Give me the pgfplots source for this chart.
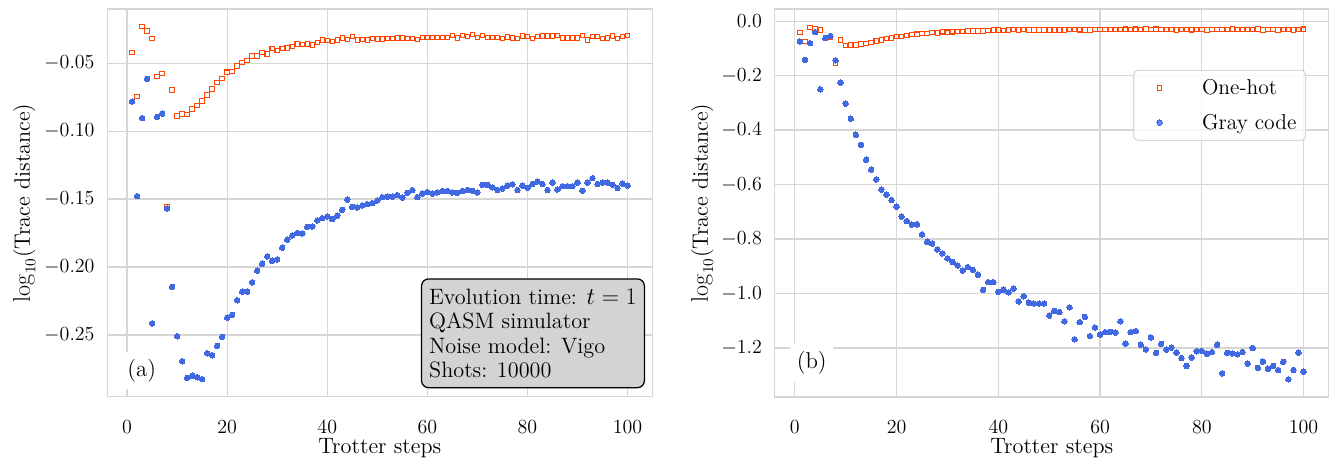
\documentclass[border=0pt]{standalone}
\usepackage[no-math]{fontspec}
\setmainfont{lmroman12-regular.otf}[ItalicFont=lmroman12-italic.otf, BoldFont=lmroman12-bold.otf]
\usepackage{pgfplots}
\usepackage{pgfplotstable}
\pgfplotsset{compat=1.18}
\definecolor{orng}{RGB}{255,69,0}
\definecolor{rblue}{RGB}{65,105,225}
\definecolor{gridc}{RGB}{214,214,214}
\definecolor{boxgray}{RGB}{211,211,211}

\pgfplotstableread{
n v
1 -0.0419
2 -0.0746
3 -0.0231
4 -0.0262
5 -0.0319
6 -0.0598
7 -0.0576
8 -0.1554
9 -0.0696
10 -0.0888
11 -0.0873
12 -0.0878
13 -0.0838
14 -0.0812
15 -0.0777
16 -0.0733
17 -0.0689
18 -0.0643
19 -0.0613
20 -0.0566
21 -0.0559
22 -0.0520
23 -0.0493
24 -0.0481
25 -0.0446
26 -0.0446
27 -0.0422
28 -0.0432
29 -0.0390
30 -0.0407
31 -0.0390
32 -0.0387
33 -0.0375
34 -0.0358
35 -0.0361
36 -0.0358
37 -0.0365
38 -0.0348
39 -0.0329
40 -0.0331
41 -0.0341
42 -0.0329
43 -0.0314
44 -0.0326
45 -0.0304
46 -0.0329
47 -0.0324
48 -0.0328
49 -0.0319
50 -0.0321
51 -0.0321
52 -0.0319
53 -0.0319
54 -0.0314
55 -0.0314
56 -0.0317
57 -0.0319
58 -0.0326
59 -0.0309
60 -0.0309
61 -0.0309
62 -0.0309
63 -0.0309
64 -0.0312
65 -0.0297
66 -0.0314
67 -0.0297
68 -0.0304
69 -0.0289
70 -0.0312
71 -0.0297
72 -0.0312
73 -0.0312
74 -0.0312
75 -0.0319
76 -0.0307
77 -0.0314
78 -0.0317
79 -0.0299
80 -0.0304
81 -0.0319
82 -0.0304
83 -0.0299
84 -0.0299
85 -0.0299
86 -0.0294
87 -0.0314
88 -0.0314
89 -0.0314
90 -0.0314
91 -0.0294
92 -0.0329
93 -0.0304
94 -0.0304
95 -0.0319
96 -0.0314
97 -0.0299
98 -0.0319
99 -0.0304
100 -0.0297
}\onehot

\pgfplotstableread{
n v
1 -0.0782
2 -0.1478
3 -0.0904
4 -0.0615
5 -0.2415
6 -0.0895
7 -0.0871
8 -0.1569
9 -0.2147
10 -0.2510
11 -0.2694
12 -0.2816
13 -0.2801
14 -0.2812
15 -0.2826
16 -0.2635
17 -0.2650
18 -0.2581
19 -0.2515
20 -0.2373
21 -0.2353
22 -0.2245
23 -0.2182
24 -0.2182
25 -0.2113
26 -0.2027
27 -0.1976
28 -0.1922
29 -0.1954
30 -0.1944
31 -0.1858
32 -0.1799
33 -0.1768
34 -0.1750
35 -0.1753
36 -0.1704
37 -0.1701
38 -0.1657
39 -0.1640
40 -0.1628
41 -0.1647
42 -0.1623
43 -0.1579
44 -0.1505
45 -0.1557
46 -0.1562
47 -0.1547
48 -0.1537
49 -0.1530
50 -0.1510
51 -0.1486
52 -0.1483
53 -0.1483
54 -0.1471
55 -0.1490
56 -0.1454
57 -0.1434
58 -0.1486
59 -0.1459
60 -0.1449
61 -0.1459
62 -0.1451
63 -0.1441
64 -0.1441
65 -0.1451
66 -0.1454
67 -0.1441
68 -0.1434
69 -0.1439
70 -0.1451
71 -0.1395
72 -0.1395
73 -0.1414
74 -0.1434
75 -0.1422
76 -0.1402
77 -0.1392
78 -0.1434
79 -0.1402
80 -0.1417
81 -0.1390
82 -0.1370
83 -0.1390
84 -0.1434
85 -0.1378
86 -0.1429
87 -0.1405
88 -0.1405
89 -0.1405
90 -0.1378
91 -0.1439
92 -0.1378
93 -0.1346
94 -0.1390
95 -0.1378
96 -0.1378
97 -0.1395
98 -0.1419
99 -0.1387
100 -0.1400
}\graya

\pgfplotstableread{
n v
1 -0.075
2 -0.142
3 -0.081
4 -0.040
5 -0.250
6 -0.062
7 -0.055
8 -0.144
9 -0.226
10 -0.303
11 -0.358
12 -0.417
13 -0.454
14 -0.509
15 -0.545
16 -0.581
17 -0.619
18 -0.637
19 -0.657
20 -0.681
21 -0.718
22 -0.734
23 -0.747
24 -0.746
25 -0.783
26 -0.810
27 -0.817
28 -0.838
29 -0.853
30 -0.871
31 -0.884
32 -0.897
33 -0.916
34 -0.903
35 -0.913
36 -0.931
37 -0.987
38 -0.958
39 -0.958
40 -0.994
41 -0.986
42 -0.996
43 -0.982
44 -1.029
45 -1.010
46 -1.034
47 -1.037
48 -1.037
49 -1.037
50 -1.081
51 -1.064
52 -1.068
53 -1.102
54 -1.051
55 -1.168
56 -1.105
57 -1.086
58 -1.156
59 -1.125
60 -1.151
61 -1.142
62 -1.141
63 -1.144
64 -1.102
65 -1.184
66 -1.142
67 -1.138
68 -1.188
69 -1.205
70 -1.161
71 -1.218
72 -1.185
73 -1.206
74 -1.199
75 -1.217
76 -1.237
77 -1.266
78 -1.235
79 -1.212
80 -1.211
81 -1.221
82 -1.215
83 -1.188
84 -1.293
85 -1.218
86 -1.220
87 -1.223
88 -1.215
89 -1.257
90 -1.200
91 -1.273
92 -1.250
93 -1.276
94 -1.266
95 -1.281
96 -1.251
97 -1.315
98 -1.281
99 -1.217
100 -1.287
}\grayb

\pgfplotsset{
  myax/.style={
    scale only axis,
    anchor=south west,
    xmin=-3.95, xmax=104.95,
    xtick={0,20,40,60,80,100},
    grid=major,
    major grid style={draw=gridc, line width=0.9pt},
    axis line style={draw=gridc, line width=1pt},
    major tick length=0pt,
    tick style={draw=none},
    tick label style={font=\fontsize{14.5}{17}\selectfont},
    xticklabel style={anchor=base, yshift=-26.4pt},
    yticklabel style={anchor=east, inner sep=0pt, xshift=-9pt},
    every axis x label/.style={at={(axis description cs:0.5,0)}, anchor=base, yshift=-41pt, font=\fontsize{16}{19}\selectfont},
    xlabel={Trotter steps},
    ylabel={$\log_{10}$(Trace distance)},
  },
  limg/.style={legend image code/.code={\path[draw=none, fill=none] (0cm,0cm) -- (1.5cm,0cm); \draw[mark repeat=2, mark phase=2, ##1, only marks] plot coordinates {(0cm,0cm) (0.5cm,0cm) (1.0cm,0cm)};}},
  oh/.style={only marks, mark=square, mark size=1.6pt, mark options={draw=orng, fill=white, line width=0.75pt}, limg},
  gc/.style={only marks, mark=*, mark size=2pt, mark options={draw=rblue, fill=rblue, line width=0pt}, limg},
}

\begin{document}
\begin{tikzpicture}
\useasboundingbox (0,0) rectangle (962.64pt,329.04pt);

\begin{axis}[myax,
  at={(77.26pt,43.42pt)}, width=392.4pt, height=279.1pt,
  ymin=-0.2955, ymax=-0.0101,
  ytick={-0.25,-0.20,-0.15,-0.10,-0.05},
  yticklabel style={/pgf/number format/.cd, fixed, fixed zerofill, precision=2},
  every axis y label/.style={at={(axis description cs:0,0.5)}, xshift=-55.7pt, rotate=90, anchor=base, font=\fontsize{16}{19}\selectfont},
]
\addplot[oh] table[x=n,y=v] {\onehot};
\addplot[gc] table[x=n,y=v] {\graya};
\node[anchor=south east, fill=boxgray, draw=black, line width=0.9pt, rounded corners=5pt, align=left, inner xsep=5.5pt, inner ysep=7pt, font=\fontsize{16}{17.6}\selectfont] at (rel axis cs:0.9866,0.0217) {Evolution time: $t=1$\\QASM simulator\\Noise model: Vigo\\Shots: 10000};
\node[fill=white, rounded corners=3pt, inner sep=5pt, font=\fontsize{16.5}{19}\selectfont] at (rel axis cs:0.0631,0.0668) {(a)};
\end{axis}

\begin{axis}[myax,
  at={(557.8pt,43.2pt)}, width=398.9pt, height=279.4pt,
  ymin=-1.380, ymax=0.0448,
  ytick={-1.2,-1.0,-0.8,-0.6,-0.4,-0.2,0.0},
  yticklabel style={/pgf/number format/.cd, fixed, fixed zerofill, precision=1},
  every axis y label/.style={at={(axis description cs:0,0.5)}, xshift=-48.2pt, rotate=90, anchor=base, font=\fontsize{16}{19}\selectfont},
  legend style={at={(rel axis cs:0.959,0.843)}, anchor=north east, draw=black!15, line width=0.8pt, rounded corners=3pt, fill=white, fill opacity=0.8, text opacity=1, draw opacity=1, font=\fontsize{15.5}{18}\selectfont, inner sep=4.5pt, row sep=8.5pt},
  legend cell align=left,
]
\addplot[oh] table[x=n,y=v] {\onehot};
\addlegendentry{One-hot}
\addplot[gc] table[x=n,y=v] {\grayb};
\addlegendentry{Gray code}
\node[fill=white, rounded corners=3pt, inner sep=5pt, font=\fontsize{16.5}{19}\selectfont] at (rel axis cs:0.0668,0.0869) {(b)};
\end{axis}
\end{tikzpicture}
\end{document}
